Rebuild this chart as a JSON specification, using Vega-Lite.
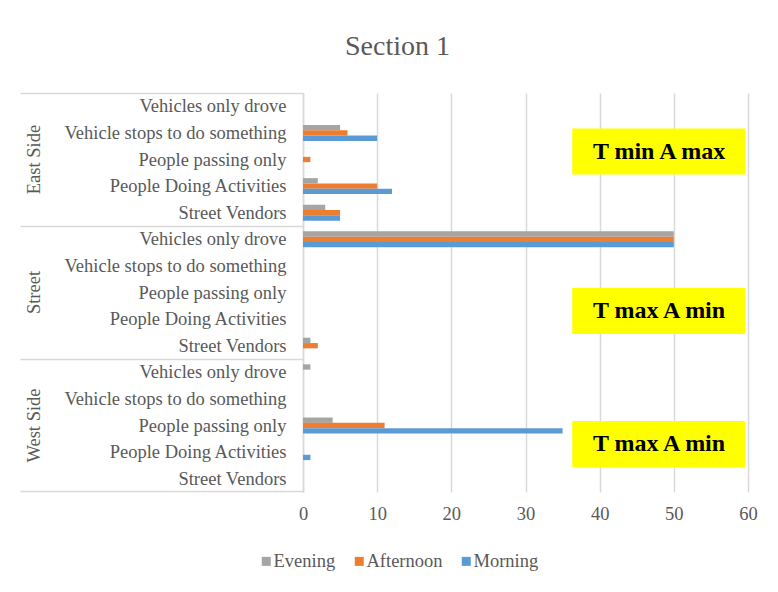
{
  "$schema": "https://vega.github.io/schema/vega-lite/v6.json",
  "background": "white",
  "autosize": "none",
  "padding": {"left": 303, "top": 93, "right": 30, "bottom": 100},
  "width": 445,
  "height": 399,
  "title": {"text": "Section 1", "font": "Liberation Serif", "fontSize": 28, "fontWeight": "normal", "color": "#595959", "anchor": "middle", "frame": "group", "dx": -128, "offset": 9, "baseline": "alphabetic"},
  "data": {"values": [
    {"side": "East Side", "activity": "Vehicles only drove", "time": "Evening", "count": 0},
    {"side": "East Side", "activity": "Vehicles only drove", "time": "Afternoon", "count": 0},
    {"side": "East Side", "activity": "Vehicles only drove", "time": "Morning", "count": 0},
    {"side": "East Side", "activity": "Vehicle stops to do something", "time": "Evening", "count": 5},
    {"side": "East Side", "activity": "Vehicle stops to do something", "time": "Afternoon", "count": 6},
    {"side": "East Side", "activity": "Vehicle stops to do something", "time": "Morning", "count": 10},
    {"side": "East Side", "activity": "People passing only", "time": "Evening", "count": 0},
    {"side": "East Side", "activity": "People passing only", "time": "Afternoon", "count": 1},
    {"side": "East Side", "activity": "People passing only", "time": "Morning", "count": 0},
    {"side": "East Side", "activity": "People Doing Activities", "time": "Evening", "count": 2},
    {"side": "East Side", "activity": "People Doing Activities", "time": "Afternoon", "count": 10},
    {"side": "East Side", "activity": "People Doing Activities", "time": "Morning", "count": 12},
    {"side": "East Side", "activity": "Street Vendors", "time": "Evening", "count": 3},
    {"side": "East Side", "activity": "Street Vendors", "time": "Afternoon", "count": 5},
    {"side": "East Side", "activity": "Street Vendors", "time": "Morning", "count": 5},
    {"side": "Street", "activity": "Vehicles only drove", "time": "Evening", "count": 50},
    {"side": "Street", "activity": "Vehicles only drove", "time": "Afternoon", "count": 50},
    {"side": "Street", "activity": "Vehicles only drove", "time": "Morning", "count": 50},
    {"side": "Street", "activity": "Vehicle stops to do something", "time": "Evening", "count": 0},
    {"side": "Street", "activity": "Vehicle stops to do something", "time": "Afternoon", "count": 0},
    {"side": "Street", "activity": "Vehicle stops to do something", "time": "Morning", "count": 0},
    {"side": "Street", "activity": "People passing only", "time": "Evening", "count": 0},
    {"side": "Street", "activity": "People passing only", "time": "Afternoon", "count": 0},
    {"side": "Street", "activity": "People passing only", "time": "Morning", "count": 0},
    {"side": "Street", "activity": "People Doing Activities", "time": "Evening", "count": 0},
    {"side": "Street", "activity": "People Doing Activities", "time": "Afternoon", "count": 0},
    {"side": "Street", "activity": "People Doing Activities", "time": "Morning", "count": 0},
    {"side": "Street", "activity": "Street Vendors", "time": "Evening", "count": 1},
    {"side": "Street", "activity": "Street Vendors", "time": "Afternoon", "count": 2},
    {"side": "Street", "activity": "Street Vendors", "time": "Morning", "count": 0},
    {"side": "West Side", "activity": "Vehicles only drove", "time": "Evening", "count": 1},
    {"side": "West Side", "activity": "Vehicles only drove", "time": "Afternoon", "count": 0},
    {"side": "West Side", "activity": "Vehicles only drove", "time": "Morning", "count": 0},
    {"side": "West Side", "activity": "Vehicle stops to do something", "time": "Evening", "count": 0},
    {"side": "West Side", "activity": "Vehicle stops to do something", "time": "Afternoon", "count": 0},
    {"side": "West Side", "activity": "Vehicle stops to do something", "time": "Morning", "count": 0},
    {"side": "West Side", "activity": "People passing only", "time": "Evening", "count": 4},
    {"side": "West Side", "activity": "People passing only", "time": "Afternoon", "count": 11},
    {"side": "West Side", "activity": "People passing only", "time": "Morning", "count": 35},
    {"side": "West Side", "activity": "People Doing Activities", "time": "Evening", "count": 0},
    {"side": "West Side", "activity": "People Doing Activities", "time": "Afternoon", "count": 0},
    {"side": "West Side", "activity": "People Doing Activities", "time": "Morning", "count": 1},
    {"side": "West Side", "activity": "Street Vendors", "time": "Evening", "count": 0},
    {"side": "West Side", "activity": "Street Vendors", "time": "Afternoon", "count": 0},
    {"side": "West Side", "activity": "Street Vendors", "time": "Morning", "count": 0},
    {"side": "East Side", "activity": "People passing only", "note": "T min A max"},
    {"side": "Street", "activity": "People Doing Activities", "note": "T max A min"},
    {"side": "West Side", "activity": "People Doing Activities", "note": "T max A min"}
  ]},
  "transform": [{"calculate": "datum.side + '|' + datum.activity", "as": "key"}],
  "encoding": {
    "y": {
      "field": "key", "type": "nominal",
      "scale": {"domain": [
        "East Side|Vehicles only drove", "East Side|Vehicle stops to do something", "East Side|People passing only", "East Side|People Doing Activities", "East Side|Street Vendors",
        "Street|Vehicles only drove", "Street|Vehicle stops to do something", "Street|People passing only", "Street|People Doing Activities", "Street|Street Vendors",
        "West Side|Vehicles only drove", "West Side|Vehicle stops to do something", "West Side|People passing only", "West Side|People Doing Activities", "West Side|Street Vendors"
      ], "paddingInner": 0.4, "paddingOuter": 0.2}
    }
  },
  "layer": [
    {
      "transform": [{"filter": "isValid(datum.time)"}],
      "mark": {"type": "bar"},
      "encoding": {
        "y": {
          "field": "key", "type": "nominal",
          "axis": {"orient": "left", "title": null, "ticks": false, "tickSize": 0, "labelPadding": 17, "labelLimit": 400, "labelExpr": "split(datum.label, '|')[1]", "labelFont": "Liberation Serif", "labelFontSize": 18.5, "labelColor": "#595959", "domain": true, "domainColor": "#d9d9d9", "domainWidth": 1.5, "grid": false, "labelOverlap": false}
        },
        "yOffset": {
          "field": "time", "type": "nominal",
          "sort": ["Evening", "Afternoon", "Morning"],
          "scale": {"domain": ["Evening", "Afternoon", "Morning"], "paddingInner": 0, "paddingOuter": 0}
        },
        "x": {
          "field": "count", "type": "quantitative",
          "scale": {"domain": [0, 60], "nice": false},
          "axis": {"title": null, "values": [0, 10, 20, 30, 40, 50, 60], "labelFlush": false, "grid": true, "gridColor": "#d9d9d9", "gridWidth": 1.5, "domain": false, "ticks": false, "tickSize": 0, "labelPadding": 12, "labelFont": "Liberation Serif", "labelFontSize": 18.5, "labelColor": "#595959"}
        },
        "color": {
          "field": "time", "type": "nominal",
          "sort": ["Evening", "Afternoon", "Morning"],
          "scale": {"domain": ["Evening", "Afternoon", "Morning"], "range": ["#a5a5a5", "#ed7d31", "#5b9bd5"]},
          "legend": {"title": null, "orient": "none", "direction": "horizontal", "legendX": -46, "legendY": 459, "symbolType": "square", "symbolSize": 81, "symbolStrokeWidth": 0, "symbolOpacity": 1, "labelFont": "Liberation Serif", "labelFontSize": 18.5, "labelColor": "#595959", "labelOffset": -2, "columnPadding": 14}
        }
      }
    },
    {
      "transform": [{"filter": "isValid(datum.note)"}],
      "mark": {"type": "bar", "color": "#ffff00", "height": 46, "yOffset": -8},
      "encoding": {
        "y": {"field": "key", "type": "nominal", "axis": null},
        "x": {"datum": 36.3, "type": "quantitative"},
        "x2": {"datum": 59.6}
      }
    },
    {
      "transform": [{"filter": "isValid(datum.note)"}],
      "mark": {"type": "text", "font": "Liberation Serif", "fontWeight": "bold", "fontSize": 24, "color": "#000000", "align": "center", "baseline": "middle", "yOffset": -8},
      "encoding": {
        "y": {"field": "key", "type": "nominal", "axis": null},
        "x": {"datum": 48, "type": "quantitative"},
        "text": {"field": "note"}
      }
    },
    {
      "transform": [{"filter": "isValid(datum.note)"}],
      "mark": {"type": "point", "opacity": 0},
      "encoding": {
        "y": {
          "field": "key", "type": "nominal",
          "axis": {"orient": "left", "title": null, "labels": true, "domain": false, "grid": false, "ticks": false, "tickSize": 0,
                   "values": ["East Side|People passing only", "Street|People passing only", "West Side|People passing only"],
                   "labelExpr": "split(datum.label, '|')[0]", "labelAngle": -90, "labelAlign": "center", "labelBaseline": "bottom", "labelPadding": 260,
                   "labelFont": "Liberation Serif", "labelFontSize": 18.5, "labelColor": "#595959", "labelOverlap": false}
        }
      }
    },
    {
      "transform": [{"filter": "isValid(datum.note)"}],
      "mark": {"type": "point", "opacity": 0},
      "encoding": {
        "y": {
          "field": "key", "type": "nominal",
          "axis": {"orient": "left", "title": null, "labels": false, "domain": false, "grid": false, "ticks": true,
                   "values": ["East Side|Vehicles only drove", "Street|Vehicles only drove", "West Side|Vehicles only drove"],
                   "bandPosition": -0.3333, "tickSize": 283, "tickColor": "#d9d9d9", "tickWidth": 1.5}
        }
      }
    },
    {
      "transform": [{"filter": "isValid(datum.note)"}],
      "mark": {"type": "point", "opacity": 0},
      "encoding": {
        "y": {
          "field": "key", "type": "nominal",
          "axis": {"orient": "left", "title": null, "labels": false, "domain": false, "grid": false, "ticks": true,
                   "values": ["West Side|Street Vendors"],
                   "bandPosition": 1.3333, "tickSize": 283, "tickColor": "#d9d9d9", "tickWidth": 1.5}
        }
      }
    }
  ],
  "resolve": {"axis": {"y": "independent"}},
  "config": {"view": {"stroke": null}}
}
